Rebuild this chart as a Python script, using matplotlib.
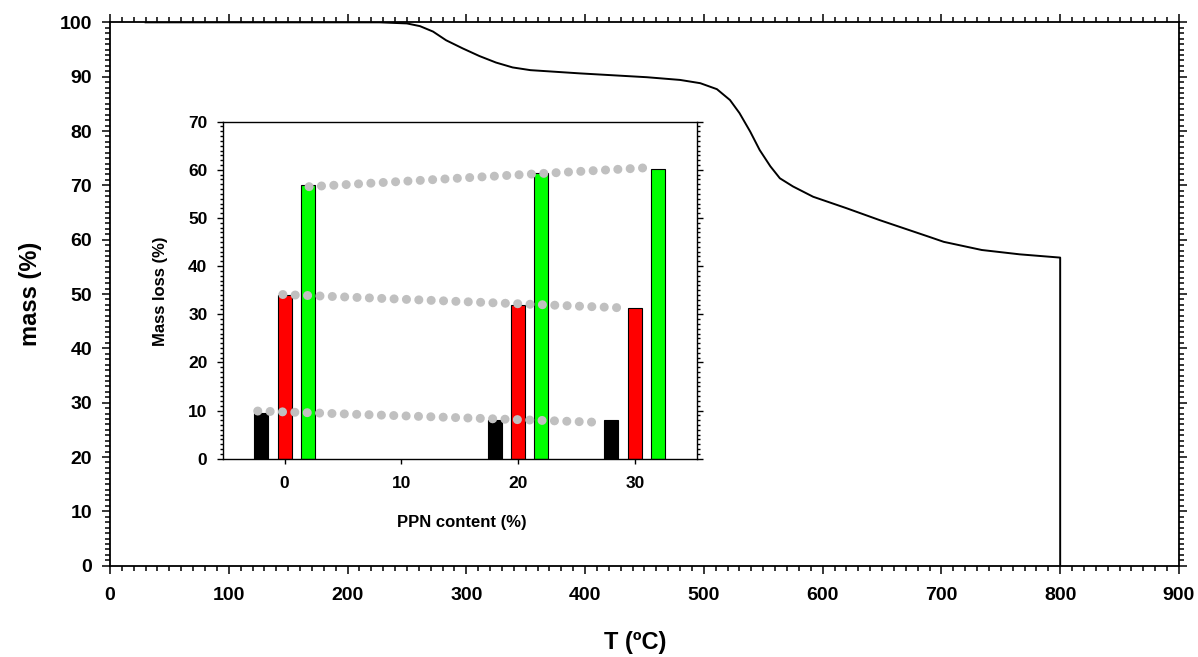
import numpy as np
import matplotlib.pyplot as plt
from matplotlib.ticker import MultipleLocator

plt.rcParams['font.family'] = ['Liberation Sans', 'DejaVu Sans']
plt.rcParams['font.weight'] = 'bold'

# TGA curve
temp = [30, 150, 227, 250, 261, 272, 283, 297, 311, 325, 339, 354, 368, 396,
        420, 452, 480, 497, 511, 522, 530, 539, 547, 556, 564, 575, 592, 620,
        648, 690, 702, 734, 766, 800, 800]
mass = [100, 100, 100, 99.8, 99.3, 98.3, 96.7, 95.2, 93.8, 92.6, 91.7, 91.2,
        91.0, 90.6, 90.3, 89.9, 89.4, 88.8, 87.7, 85.7, 83.3, 79.9, 76.5, 73.5,
        71.3, 69.8, 67.9, 65.8, 63.6, 60.5, 59.6, 58.1, 57.3, 56.7, 0]

# inset: mass loss per PPN content
ppn = [0, 20, 30]
loss_step1 = [9.5, 8.1, 8.0]
loss_step2 = [33.9, 32.0, 31.2]
loss_total = [56.8, 59.3, 60.1]

# dotted trend lines in the inset
trend1_x = [-2.3, 17.7, 27.1]
trend1_y = [9.9, 8.3, 7.55]
trend2_x = [-0.15, 19.8, 29.3]
trend2_y = [34.1, 32.2, 31.3]
trend3_x = [2.1, 22.1, 31.55]
trend3_y = [56.5, 59.25, 60.5]

fig = plt.figure(figsize=(11.98, 6.57), dpi=100)

# main axes
ax = fig.add_axes([0.0918, 0.139, 0.8923, 0.827])
ax.plot(temp, mass, color='black', lw=1.4)
ax.set_xlim(0, 900)
ax.set_ylim(0, 100)
ax.xaxis.set_major_locator(MultipleLocator(100))
ax.xaxis.set_minor_locator(MultipleLocator(10))
ax.yaxis.set_major_locator(MultipleLocator(10))
ax.yaxis.set_minor_locator(MultipleLocator(1))
ax.tick_params(which='both', direction='out', top=True, right=True, width=1.1)
ax.tick_params(which='major', length=6, labelsize=14)
ax.tick_params(axis='x', which='major', pad=9)
ax.tick_params(axis='y', which='major', pad=7)
ax.tick_params(which='minor', length=3.5)
for s in ax.spines.values():
    s.set_linewidth(1.3)
ax.set_xlabel('T (ºC)', fontsize=17, fontweight='bold', va='center')
ax.set_ylabel('mass (%)', fontsize=17, fontweight='bold', va='center')
ax.xaxis.set_label_coords(0.491, -0.142)
ax.yaxis.set_label_coords(-0.074, 0.5)

# inset axes
ins = fig.add_axes([0.1859, 0.3018, 0.3956, 0.513])
w = 1.2
ins.bar(np.array(ppn) - 2, loss_step1, width=w, color='black', edgecolor='black', lw=0.8, zorder=2)
ins.bar(np.array(ppn), loss_step2, width=w, color='#ff0000', edgecolor='black', lw=0.8, zorder=2)
ins.bar(np.array(ppn) + 2, loss_total, width=w, color='#00ff00', edgecolor='black', lw=0.8, zorder=2)
for tx, ty in [(trend1_x, trend1_y), (trend2_x, trend2_y), (trend3_x, trend3_y)]:
    ins.plot(tx, ty, color='#c0c0c0', lw=6.5, linestyle=(0, (0.01, 1.36)),
             dash_capstyle='round', zorder=3)
ins.set_xlim(-5.3, 35.3)
ins.set_ylim(0, 70)
ins.set_xticks([0, 10, 20, 30])
ins.yaxis.set_major_locator(MultipleLocator(10))
ins.yaxis.set_minor_locator(MultipleLocator(1))
ins.tick_params(axis='y', which='both', direction='out', left=True, right=True, width=1.0)
ins.tick_params(axis='y', which='major', length=4, pad=7, labelsize=12.5)
ins.tick_params(axis='y', which='minor', length=2.5)
ins.tick_params(axis='x', which='major', direction='out', length=3.5, pad=9, labelsize=12.5, width=1.0)
for s in ins.spines.values():
    s.set_linewidth(1.0)
ins.set_xlabel('PPN content (%)', fontsize=12, fontweight='bold', va='center')
ins.set_ylabel('Mass loss (%)', fontsize=12, fontweight='bold', va='center')
ins.xaxis.set_label_coords(0.505, -0.19)
ins.yaxis.set_label_coords(-0.131, 0.496)

fig.savefig('out.png', dpi=100)
